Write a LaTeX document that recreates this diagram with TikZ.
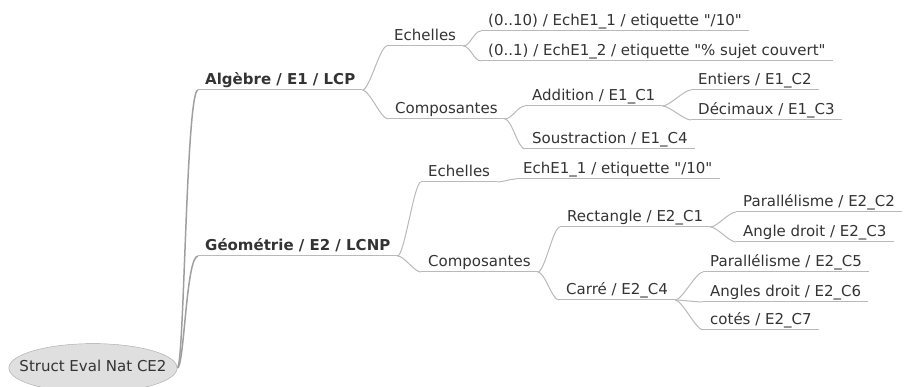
\documentclass[tikz,border=0pt]{standalone}
\usepackage{fontspec}
\setmainfont{DejaVu Sans}
\usetikzlibrary{shapes.geometric}

\begin{document}
\begin{tikzpicture}[%
  x=1pt, y=-1pt,
  every node/.style={font=\fontsize{15}{18}\selectfont, text=black!80},
  fork/.style={anchor=south west, inner xsep=7pt, inner ysep=1.5pt,
    text height=11pt, text depth=3.5pt},
  main/.style={fork, font=\fontsize{15}{18}\selectfont\bfseries},
  rootnode/.style={ellipse, draw=gray!70, fill=gray!25, inner xsep=-14pt,
    inner ysep=10pt, text height=11pt, text depth=3.5pt},
  edge/.style={draw=gray!55, line width=1pt},
  rootedge/.style={draw=gray!75, line width=1.5pt},
]

  \useasboundingbox (0,0) rectangle (906,387);

  \node[rootnode] (root) at (93,368) {Struct Eval Nat CE2};

  % Algebre
  \node[main] (alg)   at (198,90)  {Algèbre / E1 / LCP};
  \node[fork] (ech1)  at (387,46)  {Echelles};
  \node[fork] (r010)  at (481,31)  {(0..10) / EchE1\_1 / etiquette \textquotedbl/10\textquotedbl};
  \node[fork] (r01)   at (481,61)  {(0..1) / EchE1\_2 / etiquette \textquotedbl\% sujet couvert\textquotedbl};
  \node[fork] (comp1) at (388,119) {Composantes};
  \node[fork] (add)   at (525,106) {Addition / E1\_C1};
  \node[fork] (ent)   at (691,90)  {Entiers / E1\_C2};
  \node[fork] (dec)   at (691,120) {Décimaux / E1\_C3};
  \node[fork] (sous)  at (525,149) {Soustraction / E1\_C4};

  % Geometrie
  \node[main] (geo)   at (198,256) {Géométrie / E2 / LCNP};
  \node[fork] (ech2)  at (421,182) {Echelles};
  \node[fork] (echE)  at (516,179) {EchE1\_1 / etiquette \textquotedbl/10\textquotedbl};
  \node[fork] (comp2) at (421,272) {Composantes};
  \node[fork] (rect)  at (560,227) {Rectangle / E2\_C1};
  \node[fork] (par2)  at (736,212) {Parallélisme / E2\_C2};
  \node[fork] (ang3)  at (736,242) {Angle droit / E2\_C3};
  \node[fork] (carre) at (559,300) {Carré / E2\_C4};
  \node[fork] (par5)  at (703,272) {Parallélisme / E2\_C5};
  \node[fork] (ang6)  at (703,302) {Angles droit / E2\_C6};
  \node[fork] (cotes) at (703,330) {cotés / E2\_C7};

  \draw[rootedge] (root.east) .. controls +(7,0) and +(-12,0) .. (alg.south west);
  \draw[rootedge] (root.east) .. controls +(7,0) and +(-12,0) .. (geo.south west);

  \foreach \a/\b in {alg/ech1, alg/comp1, ech1/r010, ech1/r01, comp1/add,
      comp1/sous, add/ent, add/dec, geo/ech2, geo/comp2, ech2/echE,
      comp2/rect, comp2/carre, rect/par2, rect/ang3, carre/par5,
      carre/ang6, carre/cotes}
    \draw[edge] (\a.south east) .. controls +(7,0) and +(-7,0) .. (\b.south west);

  \foreach \n in {alg, ech1, r010, r01, comp1, add, ent, dec, sous, geo,
      ech2, echE, comp2, rect, par2, ang3, carre, par5, ang6, cotes}
    \draw[edge] (\n.south west) -- (\n.south east);

\end{tikzpicture}
\end{document}
